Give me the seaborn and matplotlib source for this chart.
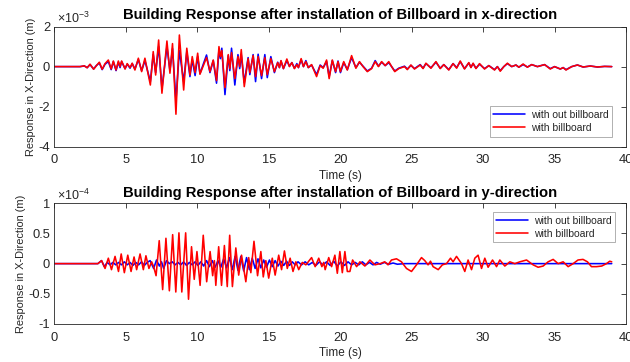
import numpy as np
import pandas as pd
import matplotlib
matplotlib.use("Agg")
import matplotlib.pyplot as plt
from matplotlib.ticker import FuncFormatter
import seaborn as sns

# ---------------------------------------------------------------
# Response in x-direction, units of 1e-3 m (local extrema of the record)
t_x = [0.0, 1.8, 2.1, 2.3, 2.5, 2.75, 2.95, 3.15, 3.35, 3.55, 3.78, 3.98, 4.13, 4.32,
       4.48, 4.6, 4.71, 4.95, 5.1, 5.3, 5.45, 5.64, 5.88, 6.11, 6.34, 6.72, 6.92, 7.09,
       7.3, 7.53, 7.88, 8.09, 8.27, 8.51, 8.75, 9.05, 9.27, 9.49, 9.65, 9.85, 10.03,
       10.19, 10.65, 10.89, 11.12, 11.35, 11.52, 11.62, 11.72, 11.94, 12.17, 12.28,
       12.4, 12.63, 12.85, 12.97, 13.08, 13.29, 13.56, 13.68, 13.91, 14.08, 14.26,
       14.5, 14.73, 14.9, 15.15, 15.4, 15.63, 15.75, 15.86, 16.03, 16.27, 16.45,
       16.62, 16.8, 16.97, 17.08, 17.27, 17.43, 17.6, 17.77, 18.0, 18.35, 18.6,
       18.81, 19.05, 19.23, 19.45, 19.68, 19.85, 20.02, 20.25, 20.5, 20.8, 21.1,
       21.35, 21.6, 21.9, 22.2, 22.45, 22.68, 22.9, 23.15, 23.4, 23.6, 23.82, 24.1,
       24.5, 24.7, 24.95, 25.2, 25.6, 25.8, 26.0, 26.35, 26.7, 27.0, 27.25, 27.6,
       27.9, 28.15, 28.4, 28.7, 29.0, 29.15, 29.3, 29.5, 29.75, 30.1, 30.4, 30.8,
       31.0, 31.2, 31.45, 31.7, 32.0, 32.3, 32.5, 32.8, 33.1, 33.4, 33.8, 34.3,
       34.7, 35.0, 35.4, 35.6, 35.8, 36.2, 36.6, 37.0, 37.5, 38.0, 38.5, 39.0]
x_with = [0, 0, 0.04, -0.06, 0.12, -0.13, 0.05, 0.22, -0.13, 0.15, 0.33, -0.12, 0.28, -0.17,
          0.28, 0.0, 0.28, -0.12, 0.15, -0.05, 0.17, -0.17, 0.42, -0.25, 0.42, -0.92, 0.75, -0.42,
          1.33, -1.33, 1.28, -0.33, 1.15, -2.38, 1.58, -1.17, 0.92, -0.42, 0.5, -0.3, 0.67,
          -0.38, 0.45, -0.25, 0.33, -0.7, 1.0, 0.5, 0.8, -1.05, 0.6, -0.1,
          0.7, -0.6, 0.5, 0.0, 0.85, -1.0, 0.4, -0.3, 0.55, -0.5, 0.5,
          -0.45, 0.45, -0.4, 0.4, -0.25, 0.2, -0.05, 0.3, -0.1, 0.38, 0.0,
          0.2, -0.1, 0.1, -0.05, 0.4, 0.0, 0.25, -0.05, 0.1, -0.5, 0.05,
          -0.08, 0.33, -0.6, 0.33, -0.25, 0.25, -0.25, 0.25, -0.17, 0.55, -0.08,
          0.25, 0.0, -0.25, -0.1, 0.25, 0.0, 0.25, 0.05, 0.25, 0.0, -0.25, -0.1,
          0.0, -0.15, 0.08, -0.12, 0.08, -0.1, 0.17, -0.08, 0.25, -0.1, 0.1, -0.17,
          0.15, -0.08, 0.28, -0.12, 0.2, -0.05, 0.17, -0.1, 0.15, -0.12, 0.05, -0.17,
          0.0, -0.23, 0.0, 0.17, 0.0, 0.08, -0.03, 0.13, -0.03, 0.1, 0.0, 0.1,
          -0.12, 0.0, -0.12, -0.05, -0.17, 0.0, 0.08, -0.02, 0.03, -0.02, 0.01, 0.0]
x_without = [0, 0, 0.03, -0.05, 0.1, -0.12, 0.06, 0.18, -0.15, 0.12, 0.25, -0.15, 0.25, -0.2,
             0.22, -0.05, 0.25, -0.1, 0.12, -0.08, 0.15, -0.12, 0.35, -0.2, 0.3, -0.75, 0.6, -0.3,
             1.0, -1.1, 1.0, -0.2, 0.9, -1.7, 0.8, -0.75, 0.75, -0.5, 0.35, -0.45, 0.5,
             -0.35, 0.58, -0.3, 0.3, -0.83, 0.85, 0.4, 0.92, -1.4, 0.55, -0.2,
             0.92, -0.92, 0.6, -0.1, 0.6, -0.8, 0.45, -0.4, 0.6, -0.75, 0.62,
             -0.6, 0.6, -0.55, 0.5, -0.3, 0.22, -0.05, 0.28, -0.1, 0.3, 0.02,
             0.2, -0.08, 0.15, -0.05, 0.35, 0.0, 0.3, -0.05, 0.08, -0.4, 0.08,
             -0.05, 0.25, -0.5, 0.3, -0.3, 0.28, -0.3, 0.2, -0.15, 0.45, -0.05,
             0.22, 0.02, -0.22, -0.08, 0.3, 0.02, 0.22, 0.05, 0.2, 0.0, -0.22, -0.08,
             0.02, -0.12, 0.06, -0.1, 0.1, -0.08, 0.15, -0.06, 0.22, -0.08, 0.1, -0.15,
             0.15, -0.05, 0.25, -0.1, 0.18, -0.03, 0.15, -0.08, 0.12, -0.1, 0.05, -0.15,
             0.0, -0.2, 0.0, 0.15, 0.0, 0.08, -0.03, 0.1, -0.02, 0.1, 0.0, 0.1,
             -0.1, 0.0, -0.12, -0.05, -0.15, 0.0, 0.08, -0.02, 0.03, -0.02, 0.01, 0.0]

# Response in y-direction, units of 1e-4 m
t_y_with = [0.0, 3.05, 3.31, 3.55, 3.78, 4.0, 4.25, 4.49, 4.68, 4.9, 5.14, 5.37, 5.58, 5.76,
            6.0, 6.23, 6.41, 6.62, 6.81, 6.95, 7.12, 7.34, 7.58, 7.81, 8.05, 8.28, 8.5,
            8.72, 8.92, 9.19, 9.39, 9.6, 9.79, 9.98, 10.2, 10.42, 10.66, 10.9, 11.08,
            11.2, 11.3, 11.5, 11.7, 11.9, 12.1, 12.27, 12.46, 12.7, 12.9, 13.1, 13.4,
            13.6, 13.75, 13.97, 14.22, 14.45, 14.62, 14.8, 15.0, 15.25, 15.45, 15.7,
            15.9, 16.1, 16.3, 16.5, 16.7, 16.9, 17.1, 17.35, 17.6, 18.0, 18.25, 18.5,
            18.72, 18.85, 18.95, 19.2, 19.4, 19.63, 19.8, 19.98, 20.15, 20.33, 20.5,
            20.68, 20.87, 21.15, 21.38, 21.73, 22.08, 22.43, 22.8, 23.12, 23.35, 23.59,
            23.94, 24.29, 24.64, 24.99, 25.34, 25.69, 25.92, 26.15, 26.32, 26.5, 26.86,
            27.15, 27.44, 27.72, 27.9, 28.14, 28.49, 28.72, 28.95, 29.19, 29.42, 29.65,
            29.89, 30.12, 30.35, 30.66, 30.94, 31.17, 31.52, 31.87, 32.22, 32.57, 33.04,
            33.5, 33.85, 34.2, 34.55, 34.9, 35.25, 35.6, 35.95, 36.3, 36.64, 36.99,
            37.3, 37.58, 37.93, 38.3, 38.63, 38.86, 39.0]
y_with = [0, 0, 0.05, -0.08, 0.09, -0.1, 0.12, -0.13, 0.16, -0.15, 0.14, -0.13, 0.11, -0.1,
          0.16, -0.1, 0.13, -0.08, 0.03, -0.05, -0.2, 0.38, -0.43, 0.42, -0.45, 0.48, -0.47,
          0.51, -0.47, 0.51, -0.59, 0.28, -0.26, 0.2, -0.36, 0.47, -0.3, 0.2, -0.2,
          0.05, -0.36, 0.28, -0.36, 0.3, -0.38, 0.47, -0.38, 0.26, -0.19, 0.14, -0.3,
          0.1, -0.15, 0.37, -0.2, 0.2, -0.22, 0.05, -0.24, 0.09, -0.19, 0.14,
          -0.1, 0.21, -0.08, 0.09, -0.13, 0.03, -0.1, 0.02, -0.02, 0.1, -0.05, 0.09,
          -0.05, 0.02, -0.1, 0.1, -0.05, 0.14, -0.16, 0.2, -0.15, 0.2, -0.13,
          -0.13, 0.06, -0.05, 0.03, -0.04, 0.06, -0.02, 0.0, 0.03, -0.02, 0.06,
          0.08, 0.03, -0.08, -0.13, -0.02, 0.1, 0.05, -0.02, 0.04, -0.05, -0.1,
          -0.02, 0.0, 0.09, 0.03, 0.12, 0.0, -0.13, 0.06, -0.1, 0.09, 0.14,
          -0.08, 0.09, -0.06, 0.06, -0.05, 0.06, -0.04, 0.03, 0.0, 0.03, 0.06,
          -0.02, -0.06, -0.04, 0.03, 0.07, 0.0, 0.03, -0.05, 0.0, 0.06, 0.07,
          0.03, -0.05, -0.05, -0.04, 0.0, 0.04, 0.03]
t_y_without = [0.0, 3.05, 3.3, 3.5, 3.7, 3.9, 4.1, 4.3, 4.5, 4.7, 4.9, 5.1, 5.3, 5.5, 5.7,
               5.9, 6.1, 6.3, 6.5, 6.7, 6.95, 7.15, 7.35, 7.5, 7.65, 7.85, 8.05, 8.25,
               8.45, 8.65, 8.85, 9.05, 9.25, 9.45, 9.65, 9.85, 10.05, 10.25, 10.45, 10.65,
               10.85, 11.05, 11.25, 11.45, 11.65, 11.85, 12.05, 12.25, 12.45, 12.65, 12.85,
               13.05, 13.25, 13.45, 13.65, 13.85, 14.05, 14.25, 14.45, 14.65, 14.85, 15.05,
               15.25, 15.45, 15.65, 15.85, 16.05, 16.25, 16.45, 16.65, 16.85, 17.05, 17.3,
               17.55, 17.8, 18.05, 18.3, 18.55, 18.8, 19.05, 19.3, 19.55, 19.8, 20.05,
               20.3, 20.55, 20.8, 21.05, 21.3, 21.55, 21.8, 22.05, 22.3, 22.55, 22.8,
               23.1, 23.4, 23.7, 24.0, 24.5, 39.0]
y_without = [0, 0, 0.05, -0.05, 0.02, -0.02, 0.02, -0.02, 0.02, -0.02, 0.03, -0.02, 0.02, -0.03,
             0.02, -0.02, 0.03, -0.03, 0.02, 0.05, -0.08, 0.06, -0.04, 0.03, -0.08, 0.05, 0.0,
             0.03, -0.02, 0.02, -0.02, 0.03, -0.03, 0.02, -0.02, 0.03, -0.03, 0.03, -0.04,
             0.05, -0.05, 0.05, -0.06, 0.05, -0.06, 0.08, -0.07, 0.1, -0.1, 0.12, -0.11,
             0.12, -0.12, 0.1, -0.1, 0.09, -0.08, 0.08, -0.07, 0.06, -0.06, 0.06,
             -0.05, 0.05, -0.04, 0.04, -0.03, 0.04, -0.03, 0.03, -0.02, 0.03, -0.02,
             0.03, -0.02, 0.02, -0.03, 0.03, -0.02, 0.03, -0.03, 0.04, -0.04, 0.03,
             -0.03, 0.03, -0.02, 0.02, -0.02, 0.03, -0.02, 0.02, -0.02, 0.02, -0.01,
             0.02, -0.01, 0.01, -0.01, 0.0, 0.0]

x_ticks = [0, 5, 10, 15, 20, 25, 30, 35, 40]
label_without = "with out billboard"
label_with = "with billboard"
# ---------------------------------------------------------------

sns.set_style("white")
plt.rcParams["font.family"] = ["Liberation Sans", "DejaVu Sans"]
plt.rcParams["mathtext.default"] = "regular"
plt.rcParams["axes.unicode_minus"] = False

TXT = "#262626"
BLUE = "#0000FF"
RED = "#FF0000"

fig = plt.figure(figsize=(6.30, 3.62), dpi=100)
ax1 = fig.add_axes([0.0862, 0.595, 0.9075, 0.3315])
ax2 = fig.add_axes([0.0862, 0.105, 0.9075, 0.3335])

panels = [
    (ax1, t_x, x_without, t_x, x_with, 1e-3, (-4, 2), [-4, -2, 0, 2],
     "Building Response after installation of Billboard in x-direction", "-3",
     dict(loc="lower right", bbox_to_anchor=(0.976, 0.082)), 5.5),
    (ax2, t_y_without, y_without, t_y_with, y_with, 1e-4, (-1, 1), [-1, -0.5, 0, 0.5, 1],
     "Building Response after installation of Billboard in y-direction", "-4",
     dict(loc="upper right", bbox_to_anchor=(0.981, 0.928)), 4.8),
]

for ax, tb, vb, tr, vr, scale, ylim, yticks, title, expo, legkw, tpad in panels:
    df_b = pd.DataFrame({"t": tb, "u": np.asarray(vb, dtype=float) * scale})
    df_r = pd.DataFrame({"t": tr, "u": np.asarray(vr, dtype=float) * scale})
    sns.lineplot(data=df_b, x="t", y="u", ax=ax, color=BLUE, linewidth=1.15,
                 label=label_without, estimator=None, sort=False)
    sns.lineplot(data=df_r, x="t", y="u", ax=ax, color=RED, linewidth=1.15,
                 label=label_with, estimator=None, sort=False)

    ax.set_xlim(0, 40)
    ax.set_ylim(ylim[0] * scale, ylim[1] * scale)
    ax.set_xticks(x_ticks)
    ax.set_yticks([v * scale for v in yticks])
    ax.yaxis.set_major_formatter(FuncFormatter(lambda v, p, s=scale: "%g" % round(v / s, 3)))
    ax.tick_params(direction="in", length=3.5, width=0.6, top=True, right=True,
                   labelsize=9.3, colors=TXT)
    ax.tick_params(axis="x", pad=5.5)
    ax.tick_params(axis="y", pad=3)
    for sp in ax.spines.values():
        sp.set_color(TXT)
        sp.set_linewidth(0.6)
    ax.set_title(title, fontsize=10.6, fontweight="bold", color="black", pad=tpad)
    ax.set_xlabel("Time (s)", fontsize=8.5, color=TXT, labelpad=2.5)
    ax.set_ylabel("Response in X-Direction (m)", fontsize=7.9, color=TXT, labelpad=1.5)
    ax.text(0.004, 1.005, "×10$^{%s}$" % expo, transform=ax.transAxes,
            fontsize=9, color=TXT, ha="left", va="bottom")

    leg = ax.legend(fontsize=7.5, frameon=True, fancybox=False, handlelength=3.0,
                    borderaxespad=0, borderpad=0.35, labelspacing=0.3, handletextpad=0.6,
                    **legkw)
    leg.get_frame().set_edgecolor("#8c8c8c")
    leg.get_frame().set_linewidth(0.6)
    for txt in leg.get_texts():
        txt.set_color(TXT)

fig.savefig("out.png", dpi=100)
